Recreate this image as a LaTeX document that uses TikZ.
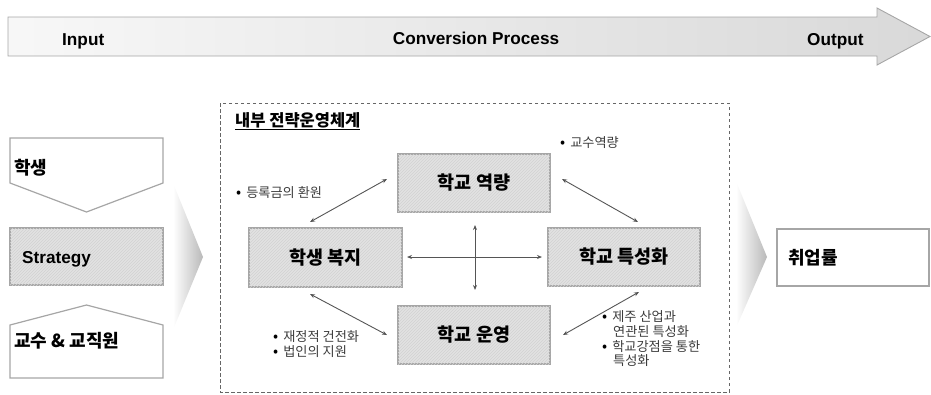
\documentclass[tikz,border=0pt]{standalone}
\usepackage{fontspec}
\setmainfont{Liberation Sans}
\newfontfamily\kr{Noto Sans CJK KR}
\newfontfamily\krb{Noto Sans CJK KR Black}
\usetikzlibrary{arrows.meta,patterns}
\definecolor{edge}{HTML}{A6A6A6}
\definecolor{boxfill}{HTML}{E2E2E2}
\definecolor{hatch}{HTML}{D2D2D2}
\definecolor{arr}{HTML}{555555}
\definecolor{note}{HTML}{3C3C3C}
\newcommand{\blt}{{\color{black}\fontsize{15}{13}\selectfont•}\hspace{5pt}}
\tikzset{
  hbox/.style={draw=edge, line width=1.2pt, fill=boxfill,
    postaction={pattern=north east lines, pattern color=hatch},
    inner sep=0pt, font=\krb\fontsize{18.5}{18.5}\selectfont},
  wbox/.style={draw=edge, line width=1.2pt, fill=white},
  eng/.style={font=\bfseries\fontsize{17.2}{17.2}\selectfont},
  krh/.style={font=\krb\fontsize{18}{18}\selectfont},
  notetxt/.style={anchor=west, inner sep=0pt, text=note, font=\kr\fontsize{13.2}{13.2}\selectfont},
  link/.style={draw=arr, line width=0.9pt, {Stealth[length=5pt,width=4pt]}-{Stealth[length=5pt,width=4pt]}},
  fade/.style={left color=white, right color=gray!55, draw=none}
}
\begin{document}
\begin{tikzpicture}[x=1pt,y=-1pt]
\useasboundingbox (0,0) rectangle (931,394);

% top process arrow
\path[draw=edge, line width=0.9pt, left color=white!94!gray, right color=gray!30]
  (8,17) -- (877,17) -- (877,8) -- (930,36.5) -- (877,65) -- (877,56) -- (8,56) -- cycle;
\node[eng, anchor=west, inner sep=0pt] (tin) at (62,41) {Input};
\node[eng, inner sep=0pt] (tconv) at (476,38) {Conversion Process};
\node[eng, anchor=west, inner sep=0pt] (tout) at (807,41) {Output};

% left inputs
\draw[wbox] (10,138) -- (163,138) -- (163,183) -- (86.5,212) -- (10,183) -- cycle;
\node[krh, anchor=west, inner sep=0pt] (stu) at (14,168) {학생};
\node[hbox, minimum width=153pt, minimum height=57pt] (strat) at (86.5,256.5) {};
\node[eng, anchor=west, inner sep=0pt] (stratt) at (22,259) {Strategy};
\draw[wbox] (10,378) -- (163,378) -- (163,325) -- (86.5,305) -- (10,325) -- cycle;
\node[krh, anchor=west, inner sep=0pt] (fac) at (14,341) {교수 \& 교직원};

% fading chevrons
\shade[fade] (173,183) -- (203,257) -- (173,330) -- cycle;
\shade[fade] (736,181) -- (767,257) -- (736,328) -- cycle;

% dashed frame
\draw[draw=gray!80!black, line width=0.7pt, dash pattern=on 3.5pt off 2.5pt] (220,103) rectangle (729,392);
\node[anchor=west, inner sep=0pt, font=\krb\fontsize{16.5}{16.5}\selectfont] (title) at (235,121) {\underline{내부 전략운영체계}};

% inner boxes
\node[hbox, minimum width=152pt, minimum height=58pt] (cap) at (474,183) {학교 역량};
\node[hbox, minimum width=153pt, minimum height=59pt] (wel) at (325.5,257.5) {학생 복지};
\node[hbox, minimum width=152pt, minimum height=58pt] (spec) at (624,257) {학교 특성화};
\node[hbox, minimum width=152pt, minimum height=58pt] (ops) at (474,335) {학교 운영};

% output box
\node[wbox, minimum width=152pt, minimum height=57pt, inner sep=0pt] (outb) at (853,257.5) {};
\node[krh, anchor=west, inner sep=0pt] (outt) at (788,258) {취업률};

% connector end points
\coordinate (a1s) at (310,222); \coordinate (a1e) at (387,179);
\coordinate (a2s) at (562,179); \coordinate (a2e) at (638,222);
\coordinate (a3s) at (310,294); \coordinate (a3e) at (387,335);
\coordinate (a4s) at (563,335); \coordinate (a4e) at (639,292);
\coordinate (hs) at (407,257);  \coordinate (he) at (542,257);
\coordinate (vs) at (475,225);  \coordinate (ve) at (475,290);
\draw[link] (a1s) -- (a1e);
\draw[link] (a2s) -- (a2e);
\draw[link] (a3s) -- (a3e);
\draw[link] (a4s) -- (a4e);
\draw[link] (hs) -- (he);
\draw[link] (vs) -- (ve);

% notes
\node[notetxt] (n1) at (236,193) {\blt 등록금의 환원};
\node[notetxt] (n2) at (560,143) {\blt 교수역량};
\node[notetxt] (n3) at (273,336.5) {\blt 재정적 건전화};
\node[notetxt] (n4) at (273,352) {\blt 법인의 지원};
\node[notetxt] (n5) at (602,317) {\blt 제주 산업과};
\node[notetxt] (n6) at (613,332) {연관된 특성화};
\node[notetxt] (n7) at (602,347) {\blt 학교강점을 통한};
\node[notetxt] (n8) at (613,361) {특성화};
\end{tikzpicture}
\end{document}
